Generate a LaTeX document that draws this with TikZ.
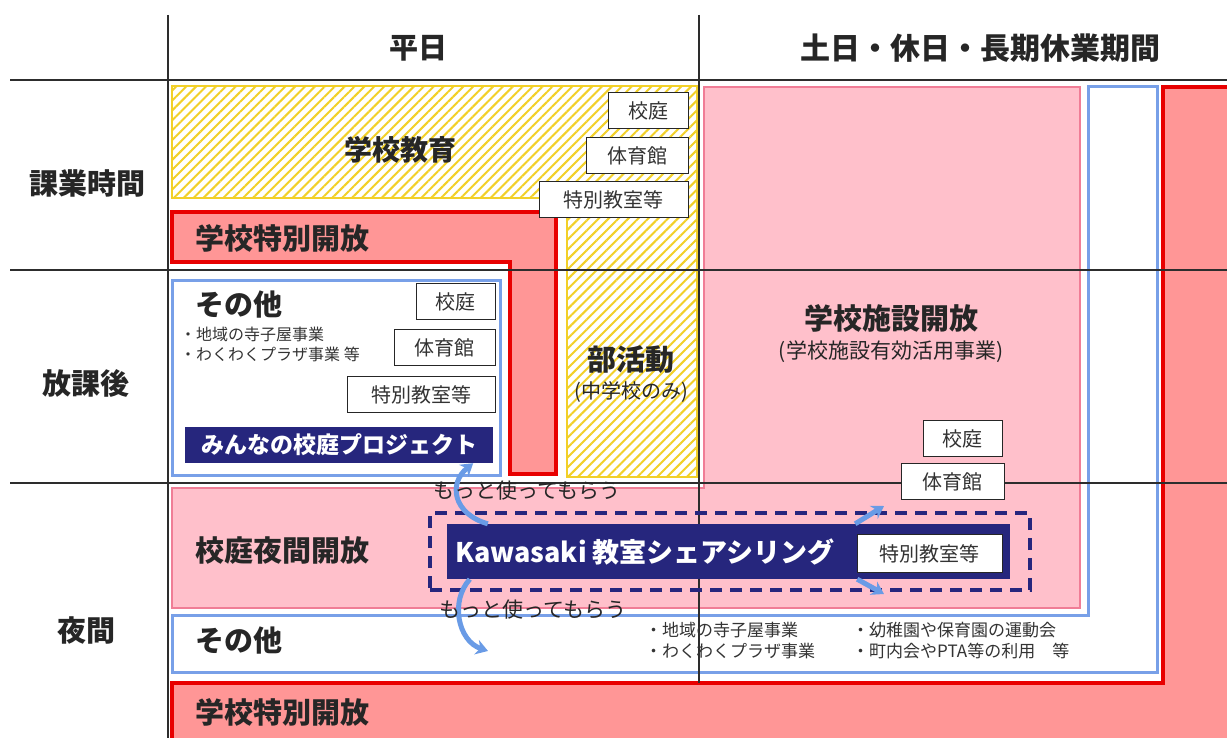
\documentclass[tikz,border=0pt]{standalone}
\usepackage{fontspec}
\setmainfont{Noto Sans CJK JP}
\usetikzlibrary{arrows.meta,patterns.meta,positioning}

\definecolor{gridgray}{RGB}{45,45,45}
\definecolor{hatchyellow}{RGB}{242,208,40}
\definecolor{openred}{RGB}{232,0,0}
\definecolor{salmon}{RGB}{255,150,150}
\definecolor{nightpink}{RGB}{255,192,203}
\definecolor{pinkline}{RGB}{240,125,150}
\definecolor{otherblue}{RGB}{120,160,232}
\definecolor{navy}{RGB}{38,38,125}
\definecolor{arrowblue}{RGB}{105,155,230}

\newcommand{\fsz}[1]{\fontsize{#1}{#1}\selectfont}

\begin{document}
\begin{tikzpicture}[x=1pt,y=-1pt,
   grid/.style={draw=gridgray,line width=1.2pt},
   head/.style={font=\fsz{29}\bfseries,text=black!85,inner sep=0pt},
   title/.style={font=\fsz{29}\bfseries,text=black!85,inner sep=0pt},
   note/.style={font=\fsz{16},text=black!80,align=left,inner sep=0pt},
   room/.style={draw=black!85,fill=white,line width=1.4pt,font=\fsz{20},
      inner sep=0pt,minimum height=36pt,text=black!80},
   more/.style={draw=arrowblue,line width=5pt,-{Stealth[length=12pt,width=15pt]}},
   moretext/.style={font=\fsz{21},text=black!85,inner sep=0pt}]
   \useasboundingbox[fill=white] (0,0) rectangle (1227,738);

   % big areas
   \fill[salmon] (1163,87) -- (1227,87) -- (1227,738) -- (172,738) -- (172,683) -- (1163,683) -- cycle;
   \draw[openred,line width=3.5pt] (1227,87) -- (1163,87) -- (1163,683) -- (172,683) -- (172,738);
   \draw[otherblue,line width=3pt,fill=white] (1088,87) -- (1157,87) -- (1157,672) -- (172,672) -- (172,615) -- (1088,615) -- cycle;
   \draw[pinkline,line width=2.5pt,fill=nightpink] (704,87) -- (1080,87) -- (1080,608) -- (172,608) -- (172,488) -- (704,488) -- cycle;
   \draw[hatchyellow,line width=2.5pt,pattern={Lines[angle=45,distance=7pt,line width=2pt]},pattern color=hatchyellow]
      (172,86) -- (697,86) -- (697,477) -- (567,477) -- (567,198) -- (172,198) -- cycle;
   \draw[openred,line width=3.5pt,fill=salmon] (172,212) -- (556,212) -- (556,474) -- (510,474) -- (510,262) -- (172,262) -- cycle;
   \draw[otherblue,line width=3pt,fill=white] (172,281) rectangle (500,475);

   % grid
   \draw[grid] (10,80) -- (1227,80);
   \draw[grid] (10,270) -- (1227,270);
   \draw[grid] (10,483) -- (1227,483);
   \draw[grid] (168,15) -- (168,738);
   \draw[grid] (699,15) -- (699,683);

   % headings
   \node[head] (weekday) at (418,48) {平日};
   \node[head,font=\fsz{30}\bfseries] (holiday) at (980,48) {土日・休日・長期休業期間};
   \node[head] (lesson) at (87,183) {課業時間};
   \node[head] (after) at (86,383) {放課後};
   \node[head] (night) at (86,630) {夜間};

   % weekday, lessons
   \node[title,font=\fsz{28}\bfseries] (school) at (400,150) {学校教育};
   \node[title,anchor=west] (special1) at (195,238) {学校特別開放};
   \node[room,minimum width=80pt,anchor=north east] (yard1) at (689,92) {校庭};
   \node[room,minimum width=102pt,anchor=north east] (gym1) at (689,137) {体育館};
   \node[room,minimum width=149pt,anchor=north east] (room1) at (689,181) {特別教室等};

   % after school
   \node[title,anchor=west] (other1) at (195,305) {その他};
   \node[note,anchor=north west] (other1note) at (180,327) {・地域の寺子屋事業\\[4pt]・わくわくプラザ事業 等};
   \node[room,minimum width=79pt,anchor=north east] (yard2) at (496,283) {校庭};
   \node[room,minimum width=101pt,anchor=north east] (gym2) at (496,329) {体育館};
   \node[room,minimum width=148pt,anchor=north east] (room2) at (496,376) {特別教室等};
   \node[fill=navy,minimum width=308pt,minimum height=36pt,inner sep=0pt,
      font=\fsz{23}\bfseries,text=white] (minna) at (339,445) {みんなの校庭プロジェクト};
   \node[title] (club) at (631,360) {部活動};
   \node[moretext,font=\fsz{20}] (clubnote) at (631,392) {(中学校のみ)};

   % holidays
   \node[title] (open) at (891,318) {学校施設開放};
   \node[moretext,font=\fsz{21}] (opennote) at (891,352) {(学校施設有効活用事業)};
   \node[room,minimum width=79pt,anchor=north east] (yard3) at (1003,420) {校庭};
   \node[room,minimum width=103pt,anchor=north east] (gym3) at (1005,463) {体育館};

   % night
   \node[title,anchor=west] (yardnight) at (195,551) {校庭夜間開放};
   \node[title,anchor=west] (other2) at (195,641) {その他};
   \node[note,font=\fsz{17},anchor=north west] (other2a) at (645,622) {・地域の寺子屋事業\\[4pt]・わくわくプラザ事業};
   \node[note,font=\fsz{17},anchor=north west] (other2b) at (852,622) {・幼稚園や保育園の運動会\\[4pt]・町内会やPTA等の利用　等};
   \node[title,anchor=west] (special2) at (195,712) {学校特別開放};

   % sharing
   \node[draw=navy,line width=3.5pt,dash pattern=on 12pt off 8pt,minimum width=600pt,
      minimum height=77pt,inner sep=0pt] (shareline) at (730,551.5) {};
   \node[fill=navy,minimum width=563pt,minimum height=55pt,inner sep=0pt] (share) at (728.5,551.5) {};
   \node[title,font=\fsz{27}\bfseries,text=white,anchor=west] (sharetext) at ([xshift=8pt]share.west) {Kawasaki 教室シェアシリング};
   \node[room,minimum width=145pt,minimum height=38pt,anchor=north east] (room4) at (1003,534) {特別教室等};

   \coordinate (usemore) at (488,651);
   \coordinate (toup) at (884,506);
   \coordinate (todown) at (884,594);
   \draw[more] ([xshift=41pt]share.north west) .. controls +(-35,-10) and +(-25,20) .. ([xshift=-20pt]minna.south east);
   \draw[more] ([xshift=23pt]share.south west) .. controls +(-20,22) and +(-30,-10) .. (usemore);
   \draw[more] ([xshift=-155pt]share.north east) -- (toup);
   \draw[more] ([xshift=-153pt]share.south east) -- (todown);
   \node[moretext] (more1) at (527,491) {もっと使ってもらう};
   \node[moretext] (more2) at (533,610) {もっと使ってもらう};
\end{tikzpicture}
\end{document}
